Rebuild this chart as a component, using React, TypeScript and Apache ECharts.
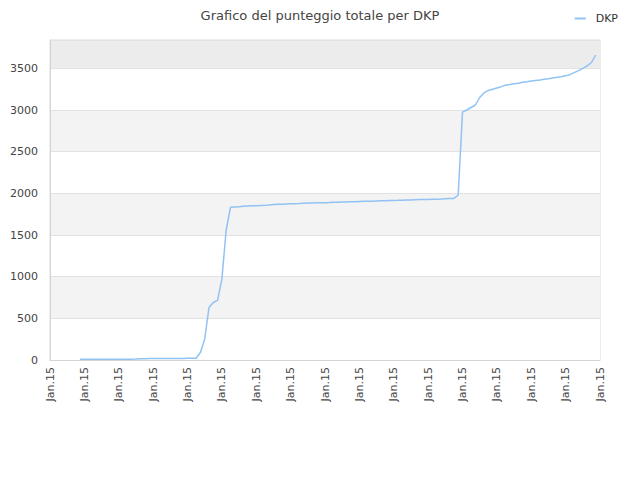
import { useRef, useEffect } from 'react'
import * as echarts from 'echarts'

const categories: string[] = Array(129).fill('Jan.15')

// DKP totale, una voce per categoria (null = nessun dato)
const leading: (number | null)[] = [null, null, null, null, null, null, null]
const dkpStart: number[] = [
  8, 8, 8, 8, 8, 8, 9, 9, 9, 9, 10, 10, 10, 11, 16, 16, 17, 17, 17, 18, 18, 18, 19, 19, 19, 20,
  20, 21
]
const dkpRise: number[] = [90, 250, 630, 690, 715, 970, 1560]
const dkpPlateau: number[] = [
  1832, 1836, 1840, 1846, 1848, 1850, 1852, 1854, 1856, 1860, 1866, 1868, 1870, 1872, 1874, 1876,
  1878, 1882, 1884, 1885, 1886, 1887, 1888, 1889, 1892, 1894, 1895, 1896, 1898, 1899, 1902, 1904,
  1905, 1906, 1908, 1910, 1912, 1914, 1915, 1916, 1918, 1920, 1921, 1923, 1925, 1926, 1927, 1929,
  1930, 1932, 1936, 1937, 1938, 1980
]
const dkpEnd: number[] = [
  2975, 3000, 3030, 3060, 3150, 3205, 3235, 3250, 3265, 3280, 3298, 3305, 3315, 3322, 3332, 3340,
  3348, 3354, 3360, 3368, 3376, 3385, 3392, 3400, 3412, 3424, 3448, 3472, 3500, 3530, 3570, 3660
]
const trailing: (number | null)[] = [null]

const dkp = [...leading, ...dkpStart, ...dkpRise, ...dkpPlateau, ...dkpEnd, ...trailing]

export default function App() {
  const chartRef = useRef<HTMLDivElement>(null)

  useEffect(() => {
    if (!chartRef.current) return
    const chart = echarts.init(chartRef.current, undefined, { renderer: 'svg' })

    chart.setOption({
      animation: false,
      textStyle: { fontFamily: 'DejaVu Sans' },
      title: {
        text: 'Grafico del punteggio totale per DKP',
        left: 'center',
        top: 4,
        textStyle: { fontSize: 13, fontWeight: 'normal', color: '#444' }
      },
      legend: {
        data: [{ name: 'DKP', icon: 'rect' }],
        right: 17,
        top: 8,
        itemWidth: 11,
        itemHeight: 2,
        itemGap: 6,
        textStyle: { fontSize: 11, color: '#333', padding: [0, 0, 0, 5] }
      },
      grid: {
        left: 50,
        right: 40,
        top: 40,
        bottom: 120,
        show: true,
        borderColor: '#dcdcdc',
        borderWidth: 1
      },
      xAxis: {
        type: 'category',
        data: categories,
        boundaryGap: false,
        axisLine: { lineStyle: { color: '#d4d4d4' } },
        axisTick: { show: false },
        axisLabel: {
          interval: 7,
          rotate: 90,
          margin: 7,
          fontSize: 11,
          color: '#444'
        },
        splitLine: { show: false }
      },
      yAxis: {
        type: 'value',
        min: 0,
        max: 3840,
        interval: 500,
        axisLine: { show: true, lineStyle: { color: '#d4d4d4' } },
        axisTick: { show: false },
        axisLabel: {
          margin: 12,
          fontSize: 11,
          color: '#444',
          formatter: (v: number) => (v % 500 === 0 ? String(v) : '')
        },
        splitLine: { lineStyle: { color: '#e2e2e2' } },
        splitArea: {
          show: true,
          areaStyle: {
            color: ['#ffffff', '#f3f3f3', '#ffffff', '#f3f3f3', '#ffffff', '#f3f3f3', '#ffffff', '#ececec']
          }
        }
      },
      series: [
        {
          name: 'DKP',
          type: 'line',
          data: dkp,
          symbol: 'none',
          lineStyle: { color: '#90c3f4', width: 1.5 },
          itemStyle: { color: '#90c3f4' }
        }
      ]
    })

    return () => {
      chart.dispose()
    }
  }, [])

  return (
    <div
      ref={chartRef}
      style={{ position: 'absolute', left: 0, top: 0, width: '640px', height: '480px' }}
    />
  )
}
